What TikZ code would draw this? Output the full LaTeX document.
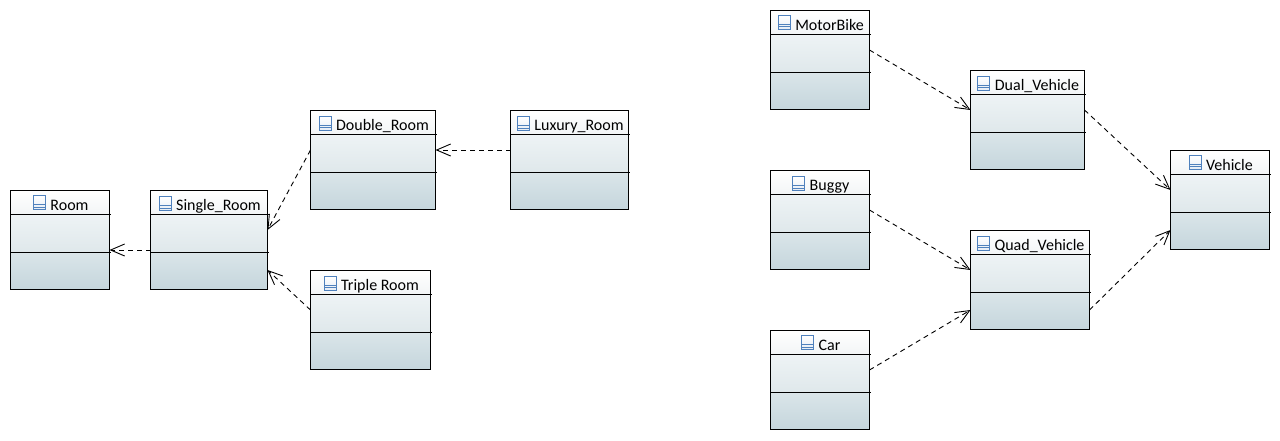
\documentclass[tikz,border=0pt]{standalone}
\usepackage{fontspec}
\setmainfont{Carlito}
\usetikzlibrary{arrows.meta}
\definecolor{lineK}{HTML}{000000}
\definecolor{iconblue}{HTML}{4F81BD}
\definecolor{headT}{HTML}{FFFFFF}
\definecolor{headB}{HTML}{F2F5F6}
\definecolor{midT}{HTML}{EEF3F5}
\definecolor{midB}{HTML}{DFE8EB}
\definecolor{lowT}{HTML}{DAE5E9}
\definecolor{lowB}{HTML}{C5D6DC}
\tikzset{
  x=1pt,y=-1pt,
  classbox/.style={rectangle,inner sep=0pt,outer sep=0pt,line width=1pt,draw=lineK,minimum height=99pt},
  classlabel/.style={inner sep=0pt,outer sep=0pt,anchor=base,font=\fontsize{16}{19}\selectfont,text=black},
  iconbox/.style={rectangle,inner sep=0pt,outer sep=0pt,draw=iconblue,line width=.9pt,minimum width=12pt,minimum height=14pt,top color=white,bottom color=iconblue!15},
  dep/.style={line width=.9pt,dash pattern=on 5pt off 4pt,-{Straight Barb[length=14pt,width=12pt,line width=.9pt]}},
}
% name, left, top, width, label
\newcommand{\umlclass}[5]{%
  \path[bottom color=headB,top color=headT] (#2+.5,#3+.5) rectangle ++(#4-1,24);
  \path[top color=midT,bottom color=midB] (#2+.5,#3+24.5) rectangle ++(#4-1,38);
  \path[top color=lowT,bottom color=lowB] (#2+.5,#3+62.5) rectangle ++(#4-1,37);
  \draw[line width=1pt,lineK] (#2+.5,#3+24.5) -- ++(#4,0);
  \draw[line width=1pt,lineK] (#2+.5,#3+62.5) -- ++(#4,0);
  \node[classbox,minimum width=#4 pt-1pt] (#1) at (#2+#4/2,#3+50) {};
  \node[classlabel] (#1-t) at (#2+#4/2+9.5,#3+20) {#5};
  \node[iconbox] (#1-i) at ([xshift=-11pt,yshift=2.5pt]#1-t.west) {};
  \draw[iconblue,line width=.8pt] ([yshift=-2pt]#1-i.west) -- ([yshift=-2pt]#1-i.east);
  \draw[iconblue,line width=.8pt] ([yshift=-4.6pt]#1-i.west) -- ([yshift=-4.6pt]#1-i.east);
}
\begin{document}
\begin{tikzpicture}
\useasboundingbox (0,0) rectangle (1280,440);
\fill[white] (0,0) rectangle (1280,440);
\umlclass{room}{10}{190}{100}{Room}
\umlclass{single}{150}{190}{118}{Single\_Room}
\umlclass{double}{310}{110}{126}{Double\_Room}
\umlclass{triple}{310}{270}{121}{Triple Room}
\umlclass{luxury}{510}{110}{119}{Luxury\_Room}
\umlclass{motor}{770}{10}{100}{MotorBike}
\umlclass{buggy}{770}{170}{100}{Buggy}
\umlclass{car}{770}{330}{100}{Car}
\umlclass{dual}{970}{70}{115}{Dual\_Vehicle}
\umlclass{quad}{970}{230}{120}{Quad\_Vehicle}
\umlclass{vehicle}{1170}{150}{100}{Vehicle}
\draw[dep] ([yshift=-10pt]single.west) -- ([yshift=-10pt]room.east);
\draw[dep] ([yshift=10pt]double.west) -- ([yshift=10pt]single.east);
\draw[dep] ([yshift=10pt]triple.west) -- ([yshift=-30pt]single.east);
\draw[dep] ([yshift=10pt]luxury.west) -- ([yshift=10pt]double.east);
\draw[dep] ([yshift=10pt]motor.east) -- ([yshift=10pt]dual.west);
\draw[dep] ([yshift=10pt]buggy.east) -- ([yshift=10pt]quad.west);
\draw[dep] ([yshift=10pt]car.east) -- ([yshift=-30pt]quad.west);
\draw[dep] ([yshift=10pt]dual.east) -- ([yshift=10pt]vehicle.west);
\draw[dep] ([yshift=-30pt]quad.east) -- ([yshift=-30pt]vehicle.west);
\end{tikzpicture}
\end{document}
